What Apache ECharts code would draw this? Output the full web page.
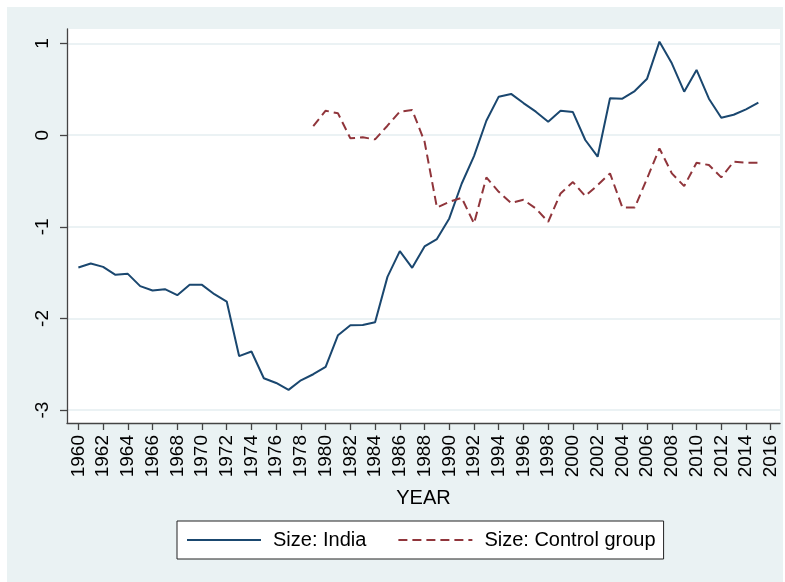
<!DOCTYPE html>
<html><head><meta charset="utf-8">
<script src="https://cdn.jsdelivr.net/npm/echarts@6/dist/echarts.min.js"></script>
<style>html,body{margin:0;padding:0;background:#fff}#c{width:785px;height:582px}</style>
</head><body><div id="c"></div>
<script>
const indiaYears = [1960,1961,1962,1963,1964,1965,1966,1967,1968,1969,1970,1971,1972,1973,1974,1975,1976,1977,1978,1979,1980,1981,1982,1983,1984,1985,1986,1987,1988,1989,1990,1991,1992,1993,1994,1995,1996,1997,1998,1999,2000,2001,2002,2003,2004,2005,2006,2007,2008,2009,2010,2011,2012,2013,2014,2015];
const indiaSize = [-1.443,-1.40,-1.437,-1.524,-1.513,-1.647,-1.695,-1.68,-1.746,-1.633,-1.633,-1.735,-1.815,-2.41,-2.36,-2.652,-2.703,-2.779,-2.674,-2.608,-2.528,-2.182,-2.073,-2.07,-2.04,-1.546,-1.265,-1.447,-1.214,-1.134,-0.908,-0.53,-0.228,0.157,0.42,0.45,0.35,0.256,0.147,0.267,0.252,-0.053,-0.235,0.402,0.398,0.481,0.616,1.02,0.784,0.474,0.711,0.398,0.19,0.223,0.282,0.354];
const controlYears = [1979,1980,1981,1982,1983,1984,1985,1986,1987,1988,1989,1990,1991,1992,1993,1994,1995,1996,1997,1998,1999,2000,2001,2002,2003,2004,2005,2006,2007,2008,2009,2010,2011,2012,2013,2014,2015];
const controlSize = [0.099,0.267,0.238,-0.035,-0.024,-0.046,0.103,0.256,0.274,-0.07,-0.789,-0.727,-0.683,-0.963,-0.461,-0.618,-0.74,-0.705,-0.80,-0.945,-0.636,-0.512,-0.665,-0.545,-0.417,-0.789,-0.79,-0.472,-0.144,-0.417,-0.556,-0.301,-0.326,-0.461,-0.29,-0.30,-0.30];
const xTickLabels = [1960,1962,1964,1966,1968,1970,1972,1974,1976,1978,1980,1982,1984,1986,1988,1990,1992,1994,1996,1998,2000,2002,2004,2006,2008,2010,2012,2014,2016];
const yTickLabels = [-3,-2,-1,0,1];
const seriesNames = ['Size: India','Size: Control group'];

const FONT = '"Liberation Sans", Arial, Helvetica, sans-serif';
const chart = echarts.init(document.getElementById('c'), null, {renderer:'canvas'});
const pair = (xs, ys) => xs.map((x,i)=>[x, ys[i]]);
chart.setOption({
  backgroundColor: '#ffffff',
  animation: false,
  graphic: [{type:'rect', z:-10, silent:true, shape:{x:7,y:7,width:776,height:575}, style:{fill:'#eaf2f3'}}],
  grid: {left:67, top:29, right:5, bottom:159, show:true, backgroundColor:'#ffffff', borderWidth:0},
  xAxis: {
    type:'value', min:1959.08, max:2016.75,
    name:'YEAR', nameLocation:'middle', nameGap:65,
    nameTextStyle:{fontFamily:FONT, fontSize:20, color:'#000'},
    axisLine:{show:true, onZero:false, lineStyle:{color:'#444', width:1.3}},
    axisTick:{show:true, length:7, customValues:xTickLabels, lineStyle:{color:'#444', width:1.3}},
    axisLabel:{rotate:90, margin:12, customValues:xTickLabels, fontFamily:FONT, fontSize:19, color:'#000',
      formatter: v => String(v)},
    splitLine:{show:false}
  },
  yAxis: {
    type:'value', min:-3.14, max:1.158,
    axisLine:{show:true, lineStyle:{color:'#444', width:1.3}},
    axisTick:{show:true, length:7, customValues:yTickLabels, lineStyle:{color:'#444', width:1.3}},
    axisLabel:{rotate:90, margin:15, customValues:yTickLabels, fontFamily:FONT, fontSize:19, color:'#000',
      formatter: v => String(v)},
    splitLine:{show:true, lineStyle:{color:'#e4eef0', width:1.5}}
  },
  legend: {
    left:177, top:521, orient:'horizontal',
    padding:[9,8,9,9], itemGap:31, itemWidth:74, itemHeight:14,
    backgroundColor:'#ffffff', borderColor:'#222', borderWidth:1,
    itemStyle:{opacity:0},
    textStyle:{fontFamily:FONT, fontSize:20, color:'#000', padding:[0,0,0,7]},
    data: seriesNames
  },
  series: [
    {name:seriesNames[0], type:'line', data:pair(indiaYears, indiaSize), symbol:'none',
     lineStyle:{color:'#1a476f', width:2}, itemStyle:{color:'#1a476f'}},
    {name:seriesNames[1], type:'line', data:pair(controlYears, controlSize), symbol:'none',
     lineStyle:{color:'#90353b', width:2, type:[9,5]}, itemStyle:{color:'#90353b'}}
  ]
});
</script></body></html>
